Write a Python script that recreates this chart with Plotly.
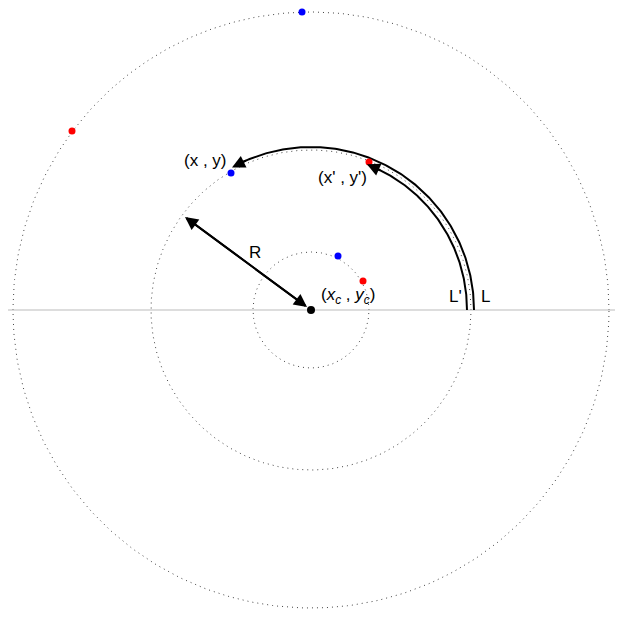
import numpy as np
import plotly.graph_objects as go

# geometry in pixel-like units, centre at origin
circle_radii = [58, 160, 298]
red_pts_x = [-239, 58, 52]
red_pts_y = [179, 148, 29]
blue_pts_x = [-9, -80, 27]
blue_pts_y = [298, 137, 54]
arc_L = (163, 0, 119)     # radius, start deg, end deg
arc_Lp = (156, 0, 69)

fig = go.Figure()
t = np.linspace(0, 2 * np.pi, 400)
for r in circle_radii:
    fig.add_trace(go.Scatter(x=r * np.cos(t), y=r * np.sin(t), mode="lines",
                             line=dict(color="#444", width=1, dash="1px,4px")))

fig.add_trace(go.Scatter(x=[-320, 330], y=[0, 0], mode="lines",
                         line=dict(color="#bbb", width=1.2)))

for r, a0, a1 in (arc_L, arc_Lp):
    a = np.radians(np.linspace(a0, a1 - 4, 200))
    fig.add_trace(go.Scatter(x=r * np.cos(a), y=r * np.sin(a), mode="lines",
                             line=dict(color="black", width=2)))
    e = np.radians(a1)
    s = np.radians(a1 - 6)
    fig.add_annotation(x=r * np.cos(e), y=r * np.sin(e), ax=r * np.cos(s), ay=r * np.sin(s),
                       xref="x", yref="y", axref="x", ayref="y", text="",
                       showarrow=True, arrowhead=2, arrowsize=1.3, arrowwidth=2, arrowcolor="black")

fig.add_trace(go.Scatter(x=red_pts_x, y=red_pts_y, mode="markers",
                         marker=dict(color="red", size=7)))
fig.add_trace(go.Scatter(x=blue_pts_x, y=blue_pts_y, mode="markers",
                         marker=dict(color="blue", size=7)))
fig.add_trace(go.Scatter(x=[0], y=[0], mode="markers", marker=dict(color="black", size=8)))

# R arrow (double headed)
for (x0, y0, x1, y1) in [(-126, 93, -4, 3), (-4, 3, -126, 93)]:
    fig.add_annotation(x=x1, y=y1, ax=x0, ay=y0, xref="x", yref="y", axref="x", ayref="y",
                       text="", showarrow=True, arrowhead=2, arrowsize=1.3, arrowwidth=2,
                       arrowcolor="black")

labels = [(-56, 58, "R"), (-106, 150, "(x , y)"), (31, 133, "(x' , y')"),
          (37, 14, "(<i>x<sub>c</sub></i> , <i>y<sub>c</sub></i>)"),
          (144, 14, "L'"), (174, 14, "L")]
for x, y, s in labels:
    fig.add_annotation(x=x, y=y, text=s, showarrow=False, xref="x", yref="y",
                       font=dict(size=17, color="black", family="Liberation Sans"))

fig.update_layout(width=623, height=621, margin=dict(l=0, r=0, t=0, b=0),
                  showlegend=False, plot_bgcolor="white", paper_bgcolor="white")
fig.update_xaxes(range=[-303, 320], visible=False)
fig.update_yaxes(range=[-319, 302], visible=False)
fig.write_html("out.html")
